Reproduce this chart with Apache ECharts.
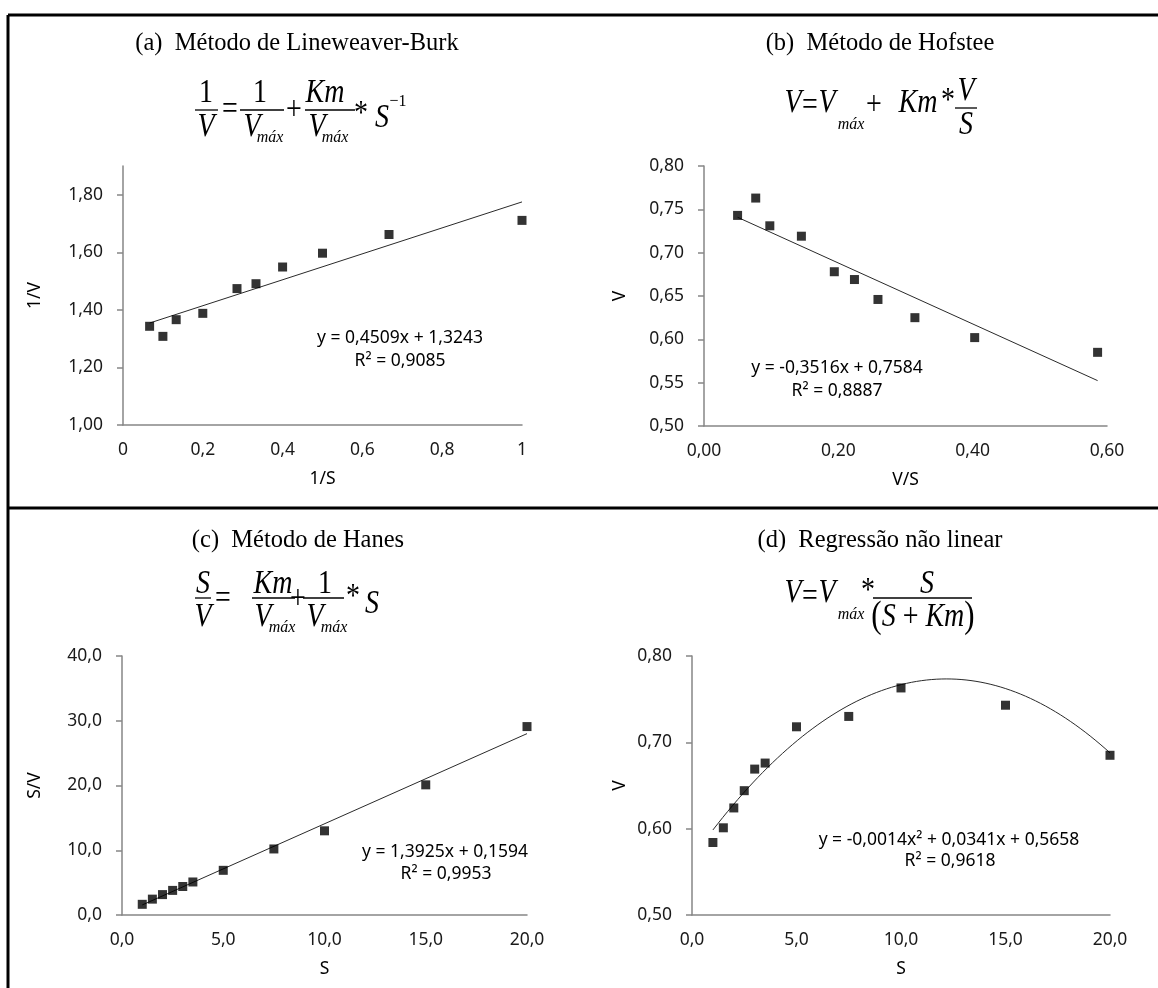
<!DOCTYPE html>
<html>
<head>
<meta charset="utf-8">
<script src="https://cdn.jsdelivr.net/npm/echarts@6/dist/echarts.min.js"></script>
<style>
  html, body { margin: 0; padding: 0; background: #fff; }
  #chart { width: 1158px; height: 988px; }
</style>
</head>
<body>
<div id="chart"></div>
<script>
// (a) Lineweaver-Burk: 1/V against 1/S
const lbInvS = [0.0667, 0.1, 0.1333, 0.2, 0.2857, 0.3333, 0.4, 0.5, 0.6667, 1];
const lbInvV = [1.343, 1.308, 1.366, 1.388, 1.474, 1.491, 1.549, 1.597, 1.662, 1.711];
const lbFit = [0.4509, 1.3243];          // slope, intercept
const lbR2 = 0.9085;
const lbXTicks = [0, 0.2, 0.4, 0.6, 0.8, 1];
const lbYTicks = [1.0, 1.2, 1.4, 1.6, 1.8];

// (b) Hofstee: V against V/S
const hfVS = [0.050, 0.077, 0.098, 0.145, 0.194, 0.224, 0.259, 0.314, 0.403, 0.586];
const hfV = [0.743, 0.763, 0.731, 0.719, 0.678, 0.669, 0.646, 0.625, 0.602, 0.585];
const hfFit = [-0.3516, 0.7584];
const hfR2 = 0.8887;
const hfXTicks = [0, 0.2, 0.4, 0.6];
const hfYTicks = [0.50, 0.55, 0.60, 0.65, 0.70, 0.75, 0.80];

// (c) Hanes: S/V against S
const hnS = [1, 1.5, 2, 2.5, 3, 3.5, 5, 7.5, 10, 15, 20];
const hnSV = [1.65, 2.45, 3.15, 3.8, 4.4, 5.1, 6.9, 10.2, 13.0, 20.1, 29.1];
const hnFit = [1.3925, 0.1594];
const hnR2 = 0.9953;
const hnXTicks = [0, 5, 10, 15, 20];
const hnYTicks = [0, 10, 20, 30, 40];

// (d) Non-linear regression: V against S
const nlS = [1, 1.5, 2, 2.5, 3, 3.5, 5, 7.5, 10, 15, 20];
const nlV = [0.584, 0.601, 0.624, 0.644, 0.669, 0.676, 0.718, 0.730, 0.763, 0.743, 0.685];
const nlFit = [-0.0014, 0.0341, 0.5658];  // x², x, constant
const nlR2 = 0.9618;
const nlXTicks = [0, 5, 10, 15, 20];
const nlYTicks = [0.5, 0.6, 0.7, 0.8];

const SANS = '"Noto Sans", "Open Sans", sans-serif';
const SERIF = '"Liberation Serif", "DejaVu Serif", serif';
const AXIS_GRAY = '#868686';
const LABEL_SIZE = 17.5;

const comma = (v, d) => (d == null ? String(+v.toFixed(6)) : v.toFixed(d)).replace('.', ',');
const coef = v => (v < 0 ? '-' : '') + Math.abs(v).toFixed(4).replace('.', ',');

function zip(xs, ys) { return xs.map((x, i) => [x, ys[i]]); }
function linePts(fit, xs) {
  const x0 = Math.min(...xs), x1 = Math.max(...xs);
  return [[x0, fit[0] * x0 + fit[1]], [x1, fit[0] * x1 + fit[1]]];
}
function quadPts(fit, xs) {
  const x0 = Math.min(...xs), x1 = Math.max(...xs), out = [];
  for (let i = 0; i <= 80; i++) {
    const x = x0 + (x1 - x0) * i / 80;
    out.push([x, fit[0] * x * x + fit[1] * x + fit[2]]);
  }
  return out;
}

function xAxis(gi, ticks, dec, name) {
  return {
    type: 'value', gridIndex: gi, min: ticks[0], max: ticks[ticks.length - 1],
    name: name, nameLocation: 'middle', nameGap: 45,
    nameTextStyle: { fontFamily: SANS, fontSize: LABEL_SIZE, color: '#000' },
    axisLine: { show: true, lineStyle: { color: AXIS_GRAY, width: 1.5 } },
    axisTick: { show: false },
    splitLine: { show: false },
    axisLabel: { customValues: ticks, margin: 16, fontFamily: SANS, fontSize: LABEL_SIZE, color: '#1a1a1a',
      formatter: v => comma(v, dec) }
  };
}
function yAxis(gi, ticks, dec, name, gap, max) {
  return {
    type: 'value', gridIndex: gi, min: ticks[0], max: max != null ? max : ticks[ticks.length - 1],
    name: name, nameLocation: 'middle', nameGap: gap, nameRotate: 90,
    nameTextStyle: { fontFamily: SANS, fontSize: LABEL_SIZE, color: '#000' },
    axisLine: { show: true, onZero: false, lineStyle: { color: AXIS_GRAY, width: 1.5 } },
    axisTick: { show: true, inside: false, length: 6, customValues: ticks, lineStyle: { color: AXIS_GRAY, width: 1.5 } },
    splitLine: { show: false },
    axisLabel: { customValues: ticks, margin: 20, fontFamily: SANS, fontSize: LABEL_SIZE, color: '#1a1a1a',
      formatter: v => comma(v, dec) }
  };
}
function points(gi, data) {
  return { type: 'scatter', xAxisIndex: gi, yAxisIndex: gi, data: data, symbol: 'rect', symbolSize: 9,
    itemStyle: { color: '#000' }, silent: true, z: 3 };
}
function trend(gi, data) {
  return { type: 'line', xAxisIndex: gi, yAxisIndex: gi, data: data, showSymbol: false, smooth: false,
    lineStyle: { color: '#2a2a2a', width: 1 }, silent: true, z: 2 };
}

// text helpers for titles, equations and fit labels
const fontOf = {
  i: 'italic 28px ' + SERIF,
  r: '28px ' + SERIF,
  s: 'italic 16px ' + SERIF,
  p: '16px ' + SERIF
};
function txt(text, x, y, font, extra) {
  return Object.assign({ type: 'text', x: x, y: y, silent: true,
    style: { text: text, font: font, fill: '#000', align: 'center', verticalAlign: 'middle' } }, extra || {});
}
function eqPiece(p) {
  const big = p[3] === 'i' || p[3] === 'r';
  return txt(p[0], p[1], p[2], fontOf[p[3]], { scaleY: big ? 1.22 : 1.1 });
}
function bar(b) {
  return { type: 'line', silent: true, shape: { x1: b[0], y1: b[2], x2: b[1], y2: b[2] },
    style: { stroke: '#000', lineWidth: 1.3 } };
}
function equation(pieces, bars) { return pieces.map(eqPiece).concat(bars.map(bar)); }

const eqA = equation([
  ['1', 206, 93, 'r'], ['V', 206, 127, 'i'],
  ['=', 230, 110, 'r'],
  ['1', 260, 93, 'r'], ['V', 252, 127, 'i'], ['máx', 270, 137, 's'],
  ['+', 294, 110, 'r'],
  ['Km', 325, 93, 'i'], ['V', 317, 127, 'i'], ['máx', 335, 137, 's'],
  ['*', 361, 114, 'r'], ['S', 382, 118, 'i'], ['−1', 398, 101, 'p']
], [[195, 218, 110], [240, 284, 110], [305, 355, 110]]);

const eqB = equation([
  ['V', 793, 103, 'i'], ['=', 810, 106, 'r'], ['V', 827, 103, 'i'], ['máx', 851, 124, 's'],
  ['+', 874, 105, 'r'], ['Km', 918, 103, 'i'], ['*', 948, 101, 'r'],
  ['V', 966, 91, 'i'], ['S', 966, 125, 'i']
], [[955, 977, 108]]);

const eqC = equation([
  ['S', 203, 584, 'i'], ['V', 203, 617, 'i'],
  ['=', 223, 599, 'r'],
  ['Km', 273, 584, 'i'], ['V', 263, 617, 'i'], ['máx', 282, 627, 's'],
  ['+', 298, 599, 'r'],
  ['1', 325, 584, 'r'], ['V', 315, 617, 'i'], ['máx', 334, 627, 's'],
  ['*', 353, 597, 'r'], ['S', 372, 604, 'i']
], [[195, 211, 598], [252, 295, 598], [303, 344, 598]]);

const eqD = equation([
  ['V', 793, 593, 'i'], ['=', 810, 597, 'r'], ['V', 827, 593, 'i'], ['máx', 851, 614, 's'],
  ['*', 868, 591, 'r'], ['S', 927, 584, 'i']
], [[873, 972, 598]]).concat([{
  type: 'text', x: 923, y: 617, silent: true, scaleY: 1.22,
  style: {
    text: '{p|(}{i|S}{r| + }{i|Km}{p|)}', align: 'center', verticalAlign: 'middle', fill: '#000',
    rich: {
      p: { font: '31px ' + SERIF },
      i: { font: 'italic 28px ' + SERIF },
      r: { font: '28px ' + SERIF }
    }
  }
}]);

const titleFont = '24.5px ' + SERIF;
const fitFont = LABEL_SIZE + 'px ' + SANS;

const frame = [
  [8, 15, 8, 988], [8, 15, 1158, 15], [8, 508, 1158, 508]
].map(l => ({ type: 'line', silent: true, shape: { x1: l[0], y1: l[1], x2: l[2], y2: l[3] },
  style: { stroke: '#000', lineWidth: 3 } }));

const graphics = [].concat(
  frame,
  [
    txt('(a)  Método de Lineweaver-Burk', 297, 44, titleFont),
    txt('(b)  Método de Hofstee', 880, 44, titleFont),
    txt('(c)  Método de Hanes', 298, 541, titleFont),
    txt('(d)  Regressão não linear', 880, 541, titleFont)
  ],
  eqA, eqB, eqC, eqD,
  [
    txt('y = ' + coef(lbFit[0]) + 'x + ' + coef(lbFit[1]), 400, 338, fitFont),
    txt('R² = ' + coef(lbR2), 400, 361, fitFont),
    txt('y = ' + coef(hfFit[0]) + 'x + ' + coef(hfFit[1]), 837, 368, fitFont),
    txt('R² = ' + coef(hfR2), 837, 391, fitFont),
    txt('y = ' + coef(hnFit[0]) + 'x + ' + coef(hnFit[1]), 445, 852, fitFont),
    txt('R² = ' + coef(hnR2), 446, 874, fitFont),
    txt('y = ' + coef(nlFit[0]) + 'x² + ' + coef(nlFit[1]) + 'x + ' + coef(nlFit[2]), 949, 840, fitFont),
    txt('R² = ' + coef(nlR2), 950, 861, fitFont)
  ]
);

const chart = echarts.init(document.getElementById('chart'), null, { renderer: 'canvas' });
chart.setOption({
  animation: false,
  backgroundColor: '#fff',
  grid: [
    { left: 123, top: 166, width: 399, height: 259 },
    { left: 704, top: 166, width: 403, height: 260 },
    { left: 122, top: 656, width: 405, height: 259 },
    { left: 692, top: 656, width: 418, height: 259 }
  ],
  xAxis: [
    xAxis(0, lbXTicks, null, '1/S'),
    xAxis(1, hfXTicks, 2, 'V/S'),
    xAxis(2, hnXTicks, 1, 'S'),
    xAxis(3, nlXTicks, 1, 'S')
  ],
  yAxis: [
    yAxis(0, lbYTicks, 2, '1/V', 79, 1.9),
    yAxis(1, hfYTicks, 2, 'V', 75),
    yAxis(2, hnYTicks, 1, 'S/V', 78),
    yAxis(3, nlYTicks, 2, 'V', 63)
  ],
  series: [
    trend(0, linePts(lbFit, lbInvS)), points(0, zip(lbInvS, lbInvV)),
    trend(1, linePts(hfFit, hfVS)), points(1, zip(hfVS, hfV)),
    trend(2, linePts(hnFit, hnS)), points(2, zip(hnS, hnSV)),
    trend(3, quadPts(nlFit, nlS)), points(3, zip(nlS, nlV))
  ],
  graphic: { elements: graphics }
});
</script>
</body>
</html>
